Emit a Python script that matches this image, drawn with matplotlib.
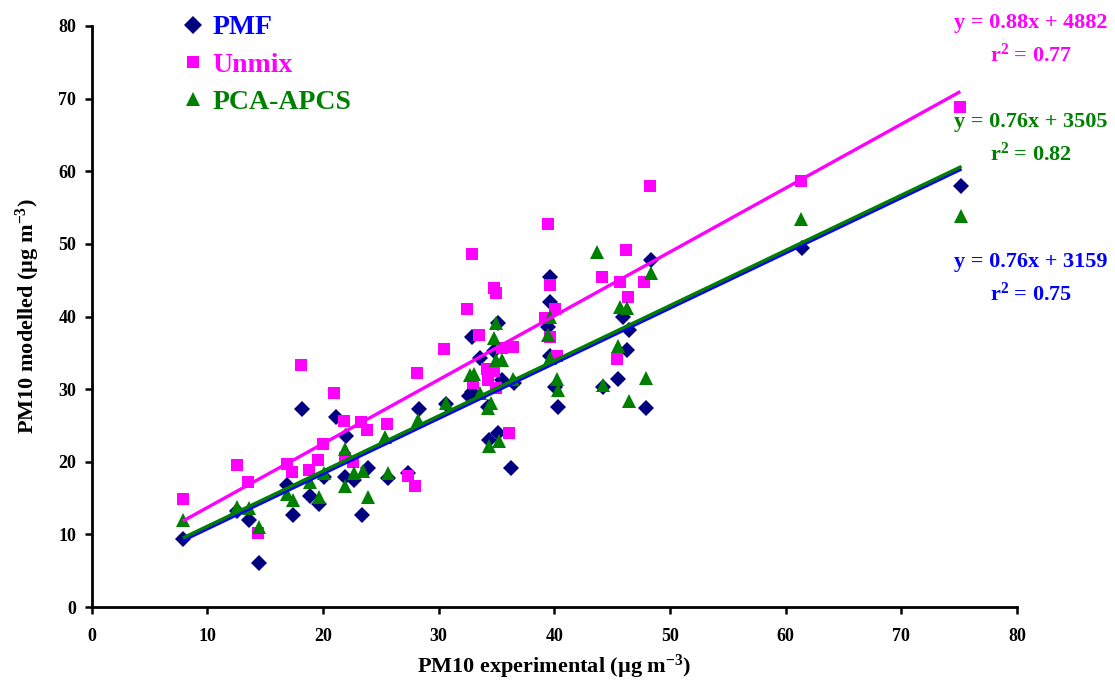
import matplotlib
matplotlib.use("Agg")
import matplotlib.pyplot as plt
import numpy as np

plt.rcParams['font.family'] = ['Liberation Serif', 'DejaVu Serif']
plt.rcParams['font.weight'] = 'bold'
plt.rcParams['mathtext.fontset'] = 'custom'
plt.rcParams['mathtext.rm'] = 'Liberation Serif:bold'
plt.rcParams['mathtext.it'] = 'Liberation Serif:bold'
plt.rcParams['mathtext.bf'] = 'Liberation Serif:bold'
plt.rcParams['mathtext.default'] = 'rm'

# ---------------- data ----------------
pmf_x = [7.9, 12.6, 13.6, 14.5, 16.9, 17.4, 18.2, 18.9, 19.7, 20.1, 21.1, 21.9, 22.0, 22.7,
         23.4, 23.9, 25.6, 27.4, 28.3, 30.6, 32.6, 32.9, 32.9, 33.6, 34.3, 34.4, 35.1, 35.1,
         34.8, 35.5, 36.5, 36.3, 39.6, 39.6, 39.5, 39.6, 40.1, 40.3, 44.2, 45.5, 45.9, 46.3,
         46.5, 47.9, 48.4, 61.4, 75.2]
pmf_y = [9.3, 13.2, 12.0, 6.0, 16.8, 12.6, 27.2, 15.3, 14.2, 17.9, 26.1, 17.9, 23.5, 17.5,
         12.7, 19.2, 17.7, 18.4, 27.2, 28.0, 29.1, 29.6, 37.2, 34.3, 27.6, 23.0, 24.0, 39.1,
         35.3, 31.3, 30.8, 19.2, 45.5, 42.0, 38.6, 34.5, 30.3, 27.6, 30.3, 31.4, 39.9, 35.4,
         38.2, 27.4, 47.8, 49.4, 58.0]

unmix_x = [7.9, 12.6, 13.5, 14.4, 16.9, 17.3, 18.1, 18.8, 19.6, 20.0, 21.0, 21.8, 21.9, 22.6,
           23.3, 23.8, 25.5, 27.4, 28.0, 28.1, 30.5, 32.5, 32.9, 33.0, 33.5, 34.2, 34.3, 34.8,
           34.8, 35.0, 35.0, 35.5, 36.4, 36.1, 39.5, 39.6, 40.1, 39.2, 39.6, 40.2, 44.1, 45.4,
           45.7, 46.2, 46.4, 47.8, 48.3, 61.3, 75.1]
unmix_y = [14.9, 19.6, 17.2, 10.2, 19.7, 18.6, 33.3, 18.8, 20.2, 22.5, 29.4, 25.6, 20.5, 20.0,
           25.5, 24.4, 25.2, 18.1, 16.7, 32.2, 35.5, 41.1, 48.6, 30.8, 37.5, 32.8, 31.3, 32.5,
           43.9, 43.2, 30.1, 35.6, 35.8, 23.9, 52.8, 44.4, 41.1, 39.8, 37.2, 34.5, 45.4, 34.1,
           44.8, 49.1, 42.7, 44.8, 58.0, 58.6, 68.8]

pca_x = [7.9, 12.6, 13.6, 14.5, 16.9, 17.4, 18.9, 19.7, 20.1, 21.9, 21.9, 22.7, 23.5, 23.9,
         25.4, 25.6, 28.2, 30.6, 32.7, 33.1, 33.6, 34.3, 34.5, 34.4, 35.2, 34.8, 35.0, 35.0,
         35.5, 36.4, 39.6, 39.5, 39.6, 40.2, 40.3, 43.7, 44.2, 45.5, 45.7, 46.3, 46.5, 47.9,
         48.4, 61.3, 75.2]
pca_y = [12.0, 13.8, 13.7, 11.0, 15.6, 14.7, 17.2, 15.2, 18.4, 21.8, 16.6, 18.5, 18.7, 15.1,
         23.4, 18.5, 25.7, 28.1, 32.0, 32.1, 29.5, 27.4, 28.1, 22.1, 22.8, 37.0, 39.1, 34.0,
         34.0, 31.4, 40.0, 37.5, 34.3, 31.4, 29.9, 48.9, 30.6, 35.9, 41.3, 41.2, 28.4, 31.6,
         46.0, 53.4, 53.9]

series_names = ['PMF', 'Unmix', 'PCA-APCS']
fit_slope = [0.76, 0.88, 0.76]
fit_intercept = [3.159, 4.882, 3.505]
eq_labels = ['y = 0.76x + 3159', 'y = 0.88x + 4882', 'y = 0.76x + 3505']
r2_labels = ['r$^{2}$ = 0.75', 'r$^{2}$ = 0.77', 'r$^{2}$ = 0.82']

x_ticks = [0, 10, 20, 30, 40, 50, 60, 70, 80]
y_ticks = [0, 10, 20, 30, 40, 50, 60, 70, 80]

# ---------------- styles ----------------
marker_colors = ['#000080', '#FF00FF', '#008000']
line_colors = ['#0000FF', '#FF00FF', '#008000']
text_colors = ['#0000FF', '#FF00FF', '#008000']
markers = ['D', 's', '^']
msizes = [8.5, 8, 9.5]

fig = plt.figure(figsize=(11.15, 6.8), dpi=100)
ax = fig.add_axes([91.5 / 1115, 73 / 680, (1017 - 91.5) / 1115, (607 - 26) / 680])

xs = [pmf_x, unmix_x, pca_x]
ys = [pmf_y, unmix_y, pca_y]

handles = []
for i in range(3):
    h, = ax.plot(xs[i], ys[i], linestyle='none', marker=markers[i], ms=msizes[i],
                 color=marker_colors[i], markeredgewidth=0, zorder=3 + i * 0.1,
                 label=series_names[i])
    handles.append(h)

# regression lines (drawn over markers), order: pink, blue, green
for i in [1, 0, 2]:
    xr = np.array([min(xs[i]), max(xs[i])])
    ax.plot(xr, fit_slope[i] * xr + fit_intercept[i], color=line_colors[i], lw=2.4,
            zorder=5 + i * 0.1, solid_capstyle='butt')

ax.set_xlim(0, 80)
ax.set_ylim(0, 80)
ax.set_xticks(x_ticks)
ax.set_yticks(y_ticks)
ax.tick_params(axis='both', direction='out', length=5, width=1.8, labelsize=13, pad=6)
for lab in ax.get_xticklabels() + ax.get_yticklabels():
    lab.set_fontweight('bold')
ax.tick_params(axis='x', pad=10)
for s in ['top', 'right']:
    ax.spines[s].set_visible(False)
for s in ['left', 'bottom']:
    ax.spines[s].set_linewidth(2)

ax.set_xlabel('PM10 experimental (µg m$^{-3}$)', fontsize=16, fontweight='bold', labelpad=6)
ax.set_ylabel('PM10 modelled (µg m$^{-3}$)', fontsize=16, fontweight='bold', labelpad=12)

leg = ax.legend(handles=handles, loc='upper left', bbox_to_anchor=(179 / 1115, 1 - 15 / 680),
                bbox_transform=fig.transFigure, frameon=False, numpoints=1,
                handlelength=1.0, handletextpad=0.2, labelspacing=0.42, borderpad=0,
                borderaxespad=0, prop={'weight': 'bold', 'size': 20})
for t, c in zip(leg.get_texts(), text_colors):
    t.set_color(c)
for lh, s in zip(leg.legend_handles, [9, 8, 10]):
    lh.set_markersize(s)

# equation annotations
eq_pos = [(262, 294), (23, 55), (122, 154)]
for i in range(3):
    fig.text(1031 / 1115, 1 - eq_pos[i][0] / 680, eq_labels[i], ha='center', va='center',
             fontsize=16, fontweight='bold', color=text_colors[i])
    fig.text(1031 / 1115, 1 - eq_pos[i][1] / 680, r2_labels[i], ha='center', va='center',
             fontsize=16, fontweight='bold', color=text_colors[i])

fig.savefig('out.png', dpi=100)
